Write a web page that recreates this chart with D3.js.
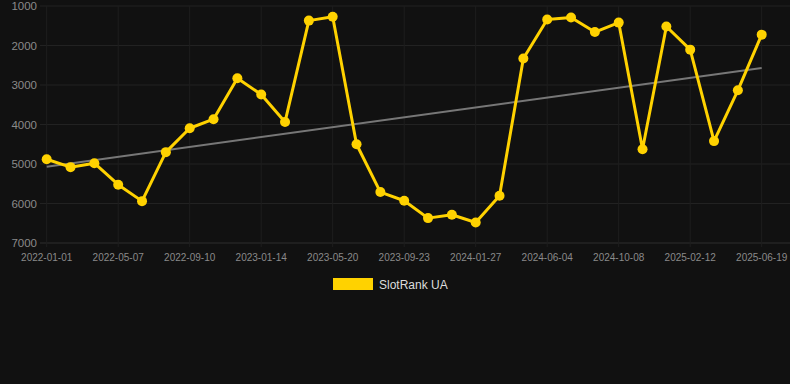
<!DOCTYPE html>
<html>
<head>
<meta charset="utf-8">
<script src="https://cdn.jsdelivr.net/npm/d3@7"></script>
<style>
    html, body { margin: 0; padding: 0; background: #111111; }
    svg { display: block; font-family: "Liberation Sans", Arial, sans-serif; }
</style>
</head>
<body>
<script>
// dates of each sample (every ~6 weeks)
let dates = [
    "2022-01-01", "2022-02-12", "2022-03-26", "2022-05-07", "2022-06-18", "2022-07-30",
    "2022-09-10", "2022-10-22", "2022-12-03", "2023-01-14", "2023-02-25", "2023-04-08",
    "2023-05-20", "2023-07-01", "2023-08-12", "2023-09-23", "2023-11-04", "2023-12-16",
    "2024-01-27", "2024-03-09", "2024-04-20", "2024-06-04", "2024-07-16", "2024-08-27",
    "2024-10-08", "2024-11-19", "2024-12-31", "2025-02-12", "2025-03-26", "2025-05-07",
    "2025-06-19"
];
// rank values (lower is better, axis is reversed)
let ranks = [
    4880, 5080, 4980, 5525, 5940, 4700,
    4095, 3865, 2830, 3240, 3935, 1370,
    1270, 4500, 5710, 5930, 6370, 6285,
    6480, 5805, 2330, 1340, 1290, 1660,
    1420, 4625, 1520, 2105, 4420, 3135,
    1725
];
let yTicks = [1000, 2000, 3000, 4000, 5000, 6000, 7000];
let seriesName = "SlotRank UA";

function drawChart() {
    let width = 790, height = 384;
    let left = 40, right = 790, top = 6, bottom = 243;
    let firstX = 46.7, lastX = 761.7;
    let gold = "#ffd200";

    let svg = d3.select("body").append("svg")
        .attr("width", width)
        .attr("height", height);

    let x = d3.scalePoint()
        .domain(dates)
        .range([firstX, lastX]);

    let y = d3.scaleLinear()
        .domain([1000, 7000])
        .range([top, bottom]);

    //horizontal grid + y labels
    svg.append("g")
        .selectAll("line")
        .data(yTicks).enter()
        .append("line")
        .attr("x1", left).attr("x2", right)
        .attr("y1", d => y(d)).attr("y2", d => y(d))
        .style("stroke", d => d === 7000 ? "#2e2e2e" : "#222222")
        .style("stroke-width", 1);

    svg.append("g")
        .selectAll("text")
        .data(yTicks).enter()
        .append("text")
        .attr("x", 37)
        .attr("y", d => y(d) + 4)
        .attr("text-anchor", "end")
        .style("font-size", "11.5px")
        .style("fill", "#8a8a8a")
        .text(d => d);

    //x ticks every 3rd date
    let xTicks = dates.filter((d, i) => i % 3 === 0);
    svg.append("g")
        .selectAll("line")
        .data(xTicks).enter()
        .append("line")
        .attr("x1", d => x(d)).attr("x2", d => x(d))
        .attr("y1", top).attr("y2", bottom + 4)
        .style("stroke", "#1e1e1e")
        .style("stroke-width", 1);

    svg.append("g")
        .selectAll("text")
        .data(xTicks).enter()
        .append("text")
        .attr("x", d => x(d))
        .attr("y", 261)
        .attr("text-anchor", "middle")
        .style("font-size", "10px")
        .style("fill", "#8a8a8a")
        .text(d => d);

    //linear trend (least squares on index)
    let n = ranks.length;
    let mx = d3.mean(ranks, (d, i) => i);
    let my = d3.mean(ranks);
    let sxy = d3.sum(ranks, (d, i) => (i - mx) * (d - my));
    let sxx = d3.sum(ranks, (d, i) => (i - mx) * (i - mx));
    let slope = sxy / sxx;
    let icpt = my - slope * mx;
    svg.append("line")
        .attr("x1", x(dates[0])).attr("y1", y(icpt))
        .attr("x2", x(dates[n - 1])).attr("y2", y(icpt + slope * (n - 1)))
        .style("stroke", "#777777")
        .style("stroke-width", 2);

    //the series
    let line = d3.line()
        .x((d, i) => x(dates[i]))
        .y(d => y(d));

    svg.append("path")
        .datum(ranks)
        .attr("d", line)
        .style("fill", "none")
        .style("stroke", gold)
        .style("stroke-width", 3)
        .style("stroke-linejoin", "round");

    svg.append("g")
        .selectAll("circle")
        .data(ranks).enter()
        .append("circle")
        .attr("cx", (d, i) => x(dates[i]))
        .attr("cy", d => y(d))
        .attr("r", 5)
        .style("fill", gold);

    //legend
    let legend = svg.append("g");
    legend.append("rect")
        .attr("x", 333).attr("y", 278)
        .attr("width", 40).attr("height", 12)
        .style("fill", gold);
    legend.append("text")
        .attr("x", 379).attr("y", 289)
        .style("font-size", "12px")
        .style("fill", "#dddddd")
        .text(seriesName);
}

drawChart();
</script>
</body>
</html>
